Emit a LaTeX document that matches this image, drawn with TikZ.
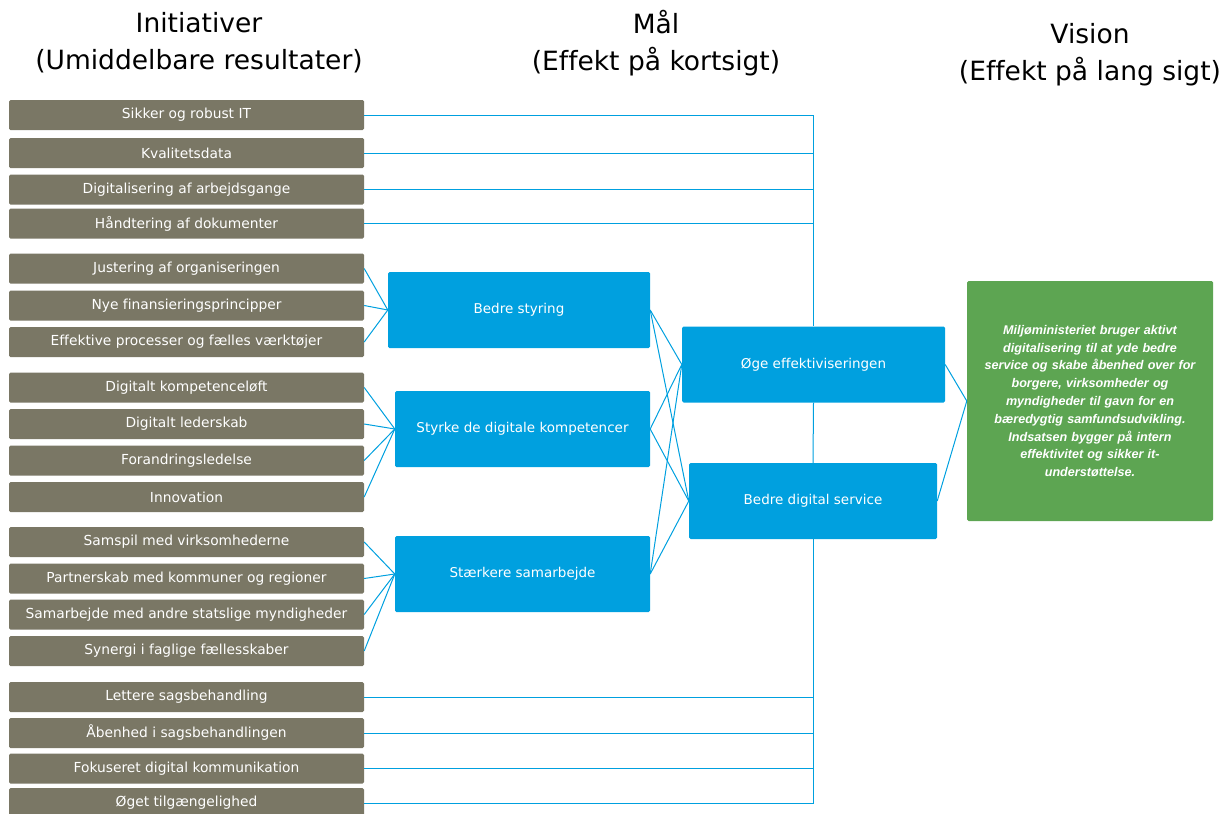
\documentclass[tikz,border=0pt]{standalone}
\usepackage{fontspec}
\setmainfont{DejaVu Sans}[Ligatures=NoCommon]
\newfontfamily\visionfont{Liberation Sans}
\definecolor{initgray}{RGB}{122,119,101}
\definecolor{maalblue}{RGB}{0,160,223}
\definecolor{visiongreen}{RGB}{93,165,82}
\begin{document}
\begin{tikzpicture}[x=1pt,y=-1pt,
    init/.style={fill=initgray, text=white, rounded corners=1.5pt, minimum width=355pt, minimum height=30pt, inner sep=0pt, font=\fontsize{13.8}{16}\selectfont},
    maal/.style={fill=maalblue, text=white, rounded corners=1.5pt, minimum height=76pt, inner sep=0pt, font=\fontsize{13.5}{16}\selectfont},
    head/.style={align=center, font=\fontsize{26.5}{37}\selectfont},
    link/.style={draw=maalblue, line width=1pt}]
        \useasboundingbox (0,0) rectangle (1224,814);

        % overskrifter
        \node[head] (h1) at (199,43) {Initiativer\\(Umiddelbare resultater)};
        \node[head] (h2) at (656,43) {Mål\\(Effekt på kortsigt)};
        \node[head] (h3) at (1090,55) {Vision\\(Effekt på lang sigt)};

        % initiativer
        \node[init] (i1) at (186.5,115) {Sikker og robust IT};
        \node[init] (i2) at (186.5,153) {Kvalitetsdata};
        \node[init] (i3) at (186.5,189.5) {Digitalisering af arbejdsgange};
        \node[init] (i4) at (186.5,223.5) {Håndtering af dokumenter};
        \node[init] (i5) at (186.5,268.5) {Justering af organiseringen};
        \node[init] (i6) at (186.5,305.5) {Nye finansieringsprincipper};
        \node[init] (i7) at (186.5,342) {Effektive processer og fælles værktøjer};
        \node[init] (i8) at (186.5,387.5) {Digitalt kompetenceløft};
        \node[init] (i9) at (186.5,424) {Digitalt lederskab};
        \node[init] (i10) at (186.5,460.5) {Forandringsledelse};
        \node[init] (i11) at (186.5,497) {Innovation};
        \node[init] (i12) at (186.5,542) {Samspil med virksomhederne};
        \node[init] (i13) at (186.5,578.5) {Partnerskab med kommuner og regioner};
        \node[init] (i14) at (186.5,614.5) {Samarbejde med andre statslige myndigheder};
        \node[init] (i15) at (186.5,651) {Synergi i faglige fællesskaber};
        \node[init] (i16) at (186.5,697) {Lettere sagsbehandling};
        \node[init] (i17) at (186.5,733) {Åbenhed i sagsbehandlingen};
        \node[init] (i18) at (186.5,768.5) {Fokuseret digital kommunikation};
        \node[init] (i19) at (186.5,803) {Øget tilgængelighed};

        % mål
        \node[maal, minimum width=262pt] (styring) at (519,310) {Bedre styring};
        \node[maal, minimum width=255pt] (kompetencer) at (522.5,429) {Styrke de digitale kompetencer};
        \node[maal, minimum width=255pt] (samarbejde) at (522.5,574) {Stærkere samarbejde};
        \node[maal, minimum width=263pt] (effekt) at (813.5,364.5) {Øge effektiviseringen};
        \node[maal, minimum width=248pt] (service) at (813,501) {Bedre digital service};

        % vision
        \node[fill=visiongreen, text=white, rounded corners=1.5pt, minimum width=246pt, minimum height=240pt, text width=236pt, align=center, inner sep=0pt,
              font=\visionfont\fontsize{12.6}{17.8}\selectfont\bfseries\itshape] (vision) at (1090,401)
              {Miljøministeriet bruger aktivt\\digitalisering til at yde bedre\\service og skabe åbenhed over for\\borgere, virksomheder og\\myndigheder til gavn for en\\bæredygtig samfundsudvikling.\\Indsatsen bygger på intern\\effektivitet og sikker it-\\understøttelse.};

        % forbindelser
        \path[link] (i1.east) -| (effekt.north);
        \path[link] (i2.east) -| (effekt.north);
        \path[link] (i3.east) -| (effekt.north);
        \path[link] (i4.east) -| (effekt.north);
        \path[link] (effekt.south) -- (service.north);
        \path[link] (i16.east) -| (service.south);
        \path[link] (i17.east) -| (service.south);
        \path[link] (i18.east) -| (service.south);
        \path[link] (i19.east) -| (service.south);

        \path[link] (i5.east) -- (styring.west);
        \path[link] (i6.east) -- (styring.west);
        \path[link] (i7.east) -- (styring.west);
        \path[link] (i8.east) -- (kompetencer.west);
        \path[link] (i9.east) -- (kompetencer.west);
        \path[link] (i10.east) -- (kompetencer.west);
        \path[link] (i11.east) -- (kompetencer.west);
        \path[link] (i12.east) -- (samarbejde.west);
        \path[link] (i13.east) -- (samarbejde.west);
        \path[link] (i14.east) -- (samarbejde.west);
        \path[link] (i15.east) -- (samarbejde.west);

        \path[link] (styring.east) -- (effekt.west);
        \path[link] (styring.east) -- (service.west);
        \path[link] (kompetencer.east) -- (effekt.west);
        \path[link] (kompetencer.east) -- (service.west);
        \path[link] (samarbejde.east) -- (effekt.west);
        \path[link] (samarbejde.east) -- (service.west);

        \path[link] (effekt.east) -- (vision.west);
        \path[link] (service.east) -- (vision.west);
    \end{tikzpicture}
\end{document}
